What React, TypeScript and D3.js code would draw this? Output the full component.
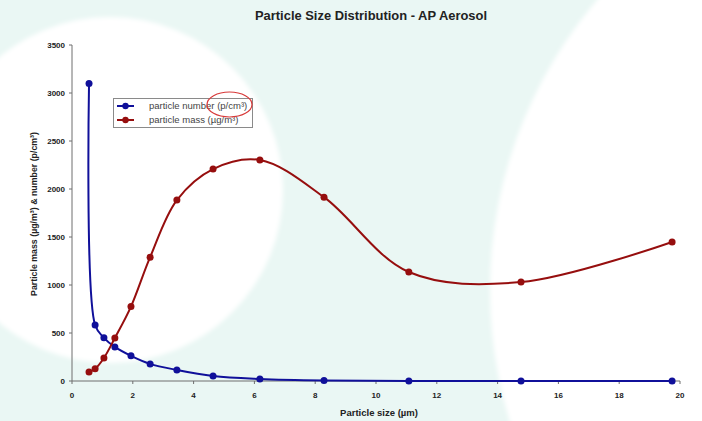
import React from "react";
import * as d3 from "d3";

// Particle size bins (µm) and measured values
const sizes = [0.56, 0.76, 1.05, 1.41, 1.94, 2.57, 3.45, 4.64, 6.18, 8.29, 11.08, 14.77, 19.74];
const particleNumber = [3100, 583, 450, 355, 262, 178, 115, 52, 22, 6, 1, 0, 0];
const particleMass = [95, 127, 240, 448, 775, 1290, 1885, 2208, 2302, 1915, 1135, 1030, 1448];

const xTicks = [0, 2, 4, 6, 8, 10, 12, 14, 16, 18, 20];
const yTicks = [0, 500, 1000, 1500, 2000, 2500, 3000, 3500];

const W = 702;
const H = 421;
const BLUE = "#10109a";
const RED = "#960e0e";
const AXIS = "#6e6e6e";
const FONT = "'Liberation Sans', Arial, sans-serif";

export default function App() {
  const x = d3.scaleLinear().domain([0, 20]).range([72, 680]);
  const y = d3.scaleLinear().domain([0, 3500]).range([381, 45]);

  // centripetal Catmull-Rom keeps the steep first segment from looping
  const line = d3
    .line<number>()
    .x((_, i) => x(sizes[i]))
    .y((v) => y(v))
    .curve(d3.curveCatmullRom.alpha(0.5));

  const series = [
    { name: "particle number ", unit: "(p/cm³)", values: particleNumber, color: BLUE },
    { name: "particle mass ", unit: "(µg/m³)", values: particleMass, color: RED },
  ];

  return (
    <svg
      width={W}
      height={H}
      style={{ position: "absolute", left: 0, top: 0, display: "block" }}
      fontFamily={FONT}
    >
      <defs>
        <filter id="soft" x="-20%" y="-20%" width="140%" height="140%">
          <feGaussianBlur stdDeviation="2" />
        </filter>
        <clipPath id="frame">
          <rect x={0} y={0} width={W} height={H} />
        </clipPath>
      </defs>

      {/* slide background */}
      <rect x={0} y={0} width={W} height={H} fill="#eaf7f4" />
      <g clipPath="url(#frame)" filter="url(#soft)">
        <circle cx={110} cy={190} r={173} fill="#ffffff" />
        <circle cx={936} cy={290} r={446} fill="#ffffff" />
      </g>

      {/* title */}
      <text
        x={371}
        y={20}
        textAnchor="middle"
        fontSize={13}
        fontWeight="bold"
        fill="#222"
        textLength={232}
        lengthAdjust="spacingAndGlyphs"
      >
        Particle Size Distribution - AP Aerosol
      </text>

      {/* y axis */}
      <line x1={72} x2={72} y1={y(3500)} y2={y(0)} stroke={AXIS} strokeWidth={1} />
      {yTicks.map((t) => (
        <g key={"y" + t}>
          <line x1={69} x2={72} y1={y(t)} y2={y(t)} stroke={AXIS} />
          <text
            x={65}
            y={y(t)}
            dy="0.35em"
            textAnchor="end"
            fontSize={8}
            fontWeight="bold"
            fill="#222"
          >
            {t}
          </text>
        </g>
      ))}

      {/* x axis */}
      <line x1={72} x2={680} y1={y(0)} y2={y(0)} stroke={AXIS} strokeWidth={1} />
      {xTicks.map((t) => (
        <g key={"x" + t}>
          <line x1={x(t)} x2={x(t)} y1={y(0)} y2={y(0) + 3} stroke={AXIS} />
          <text
            x={x(t)}
            y={398}
            textAnchor="middle"
            fontSize={8}
            fontWeight="bold"
            fill="#222"
          >
            {t}
          </text>
        </g>
      ))}

      {/* axis titles */}
      <text x={379} y={416} textAnchor="middle" fontSize={9.5} fontWeight="bold" fill="#222">
        Particle size (µm)
      </text>
      <text
        transform={`translate(37, 214) rotate(-90)`}
        textAnchor="middle"
        fontSize={8.8}
        fontWeight="bold"
        fill="#222"
      >
        Particle mass (µg/m³) &amp; number (p/cm³)
      </text>

      {/* data series */}
      {series.map((s) => (
        <g key={s.name}>
          <path d={line(s.values) || ""} fill="none" stroke={s.color} strokeWidth={2} />
          {s.values.map((v, i) => (
            <circle key={i} cx={x(sizes[i])} cy={y(v)} r={3.5} fill={s.color} />
          ))}
        </g>
      ))}

      {/* legend */}
      <g>
        <rect x={113.5} y={98.5} width={139} height={29} fill="#ffffff" stroke="#8a8a8a" strokeWidth={1} />
        {series.map((s, i) => {
          const ly = 106 + i * 14;
          return (
            <g key={"lg" + s.name}>
              <line x1={117} x2={134} y1={ly} y2={ly} stroke={s.color} strokeWidth={2} />
              <circle cx={125.5} cy={ly} r={3.2} fill={s.color} />
              <text x={149} y={ly} dy="0.35em" fontSize={9.5} fill="#444">
                {s.name}
                {s.unit}
              </text>
            </g>
          );
        })}
        <ellipse cx={229.5} cy={104.5} rx={22.5} ry={12.5} fill="none" stroke="#d83a3a" strokeWidth={1.2} />
      </g>
    </svg>
  );
}
